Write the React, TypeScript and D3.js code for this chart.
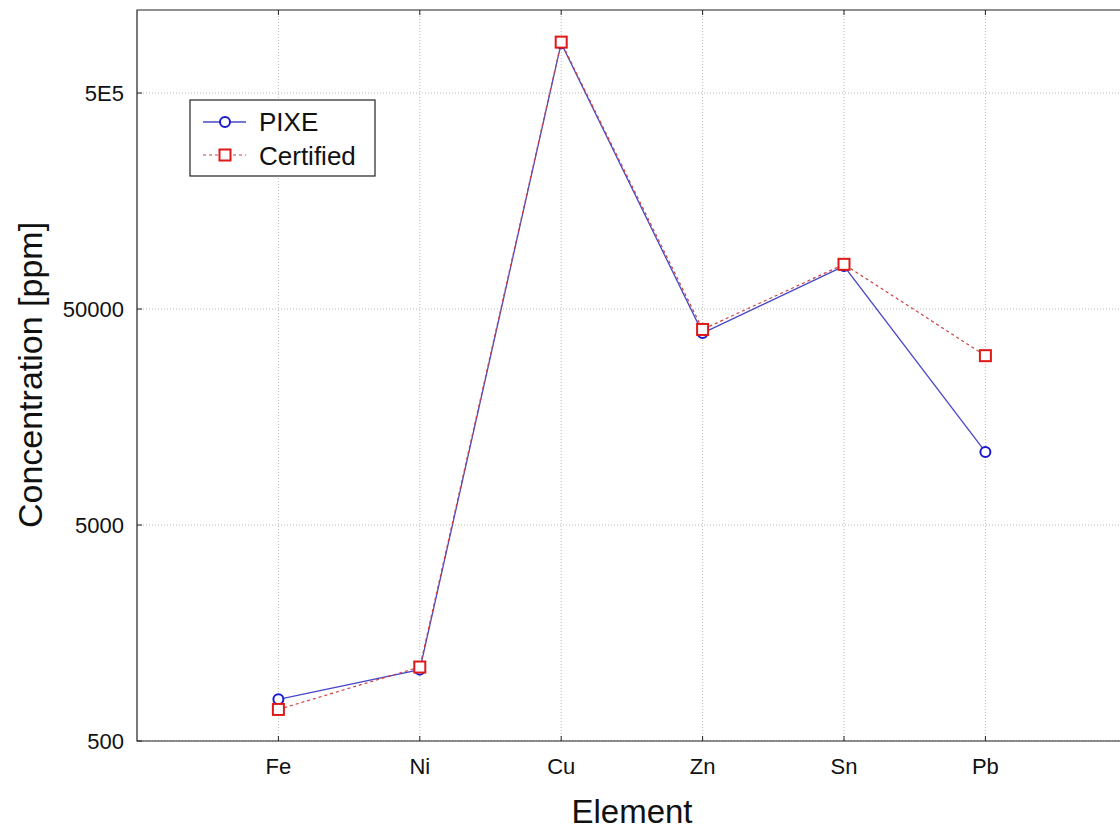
import React, {useEffect, useRef} from 'react';
import * as d3 from 'd3';

const elements = ['Fe', 'Ni', 'Cu', 'Zn', 'Sn', 'Pb'];
const pixe = [780, 1070, 850000, 38700, 79000, 10900];
const certified = [700, 1100, 860000, 40200, 80500, 30400];
const yTicks = [500, 5000, 50000, 500000];
const yTickLabels = ['500', '5000', '50000', '5E5'];

const App = () => {
    const ref = useRef<SVGSVGElement>(null);

    useEffect(() => {
        const width = 1120;
        const height = 835;
        const margin = {top: 10, left: 137, bottom: 94};
        const bottom = height - margin.bottom;

        const svg = d3.select(ref.current);
        svg.selectAll('*').remove();
        svg.attr('width', width).attr('height', height);

        const font = '"Liberation Sans", Arial, sans-serif';

        const x = d3.scaleLinear().domain([0, elements.length + 1]).range([margin.left, margin.left + 7 * 141.4]);
        // one decade = 216px, 500 sits on the bottom axis
        const y = d3.scaleLog().domain([500, 500 * Math.pow(10, (bottom - margin.top) / 216)]).range([bottom, margin.top]);

        const g = svg.append('g');

        // grid
        g.selectAll('.hgrid').data(yTicks).enter().append('line')
            .attr('x1', margin.left).attr('x2', width)
            .attr('y1', d => y(d)).attr('y2', d => y(d))
            .attr('stroke', '#b8b8b8').attr('stroke-dasharray', '1,2');
        g.selectAll('.vgrid').data(elements).enter().append('line')
            .attr('x1', (d, i) => x(i + 1)).attr('x2', (d, i) => x(i + 1))
            .attr('y1', margin.top).attr('y2', bottom)
            .attr('stroke', '#b8b8b8').attr('stroke-dasharray', '1,2');

        // frame
        g.append('path')
            .attr('d', `M${width},${margin.top}H${margin.left}V${bottom}H${width}`)
            .attr('fill', 'none').attr('stroke', '#222').attr('stroke-width', 1.2);

        // inner ticks
        g.selectAll('.ytick').data(yTicks).enter().append('line')
            .attr('x1', margin.left).attr('x2', margin.left + 5)
            .attr('y1', d => y(d)).attr('y2', d => y(d)).attr('stroke', '#222');
        elements.forEach((e, i) => {
            g.append('line').attr('x1', x(i + 1)).attr('x2', x(i + 1))
                .attr('y1', bottom).attr('y2', bottom - 5).attr('stroke', '#222');
            g.append('line').attr('x1', x(i + 1)).attr('x2', x(i + 1))
                .attr('y1', margin.top).attr('y2', margin.top + 5).attr('stroke', '#222');
        });

        // tick labels
        g.selectAll('.ylab').data(yTicks).enter().append('text')
            .attr('x', 124).attr('y', d => y(d) + 8)
            .attr('text-anchor', 'end')
            .style('font-family', font).style('font-size', '22px').attr('fill', '#111')
            .text((d, i) => yTickLabels[i]);
        g.selectAll('.xlab').data(elements).enter().append('text')
            .attr('x', (d, i) => x(i + 1)).attr('y', 774)
            .attr('text-anchor', 'middle')
            .style('font-family', font).style('font-size', '22px').attr('fill', '#111')
            .text(d => d);

        // axis titles
        g.append('text')
            .attr('transform', `translate(42, 375) rotate(-90)`)
            .attr('text-anchor', 'middle')
            .style('font-family', font).style('font-size', '34px').attr('fill', '#111')
            .text('Concentration [ppm]');
        g.append('text')
            .attr('x', 632).attr('y', 823)
            .attr('text-anchor', 'middle')
            .style('font-family', font).style('font-size', '33px').attr('fill', '#111')
            .text('Element');

        const line = d3.line<number>().x((d, i) => x(i + 1)).y(d => y(d));

        g.append('path').datum(pixe).attr('d', line)
            .attr('fill', 'none').attr('stroke', '#4848c8').attr('stroke-width', 1.3);
        g.append('path').datum(certified).attr('d', line)
            .attr('fill', 'none').attr('stroke', '#d04040').attr('stroke-width', 1.2)
            .attr('stroke-dasharray', '3,3');

        g.selectAll('.pixe').data(pixe).enter().append('circle')
            .attr('cx', (d, i) => x(i + 1)).attr('cy', d => y(d)).attr('r', 5)
            .attr('fill', 'white').attr('stroke', '#1a1acc').attr('stroke-width', 2);
        g.selectAll('.cert').data(certified).enter().append('rect')
            .attr('x', (d, i) => x(i + 1) - 5.5).attr('y', d => y(d) - 5.5)
            .attr('width', 11).attr('height', 11)
            .attr('fill', 'white').attr('stroke', '#e01818').attr('stroke-width', 2);

        // legend
        const lg = g.append('g');
        lg.append('rect').attr('x', 190).attr('y', 100).attr('width', 185).attr('height', 76)
            .attr('fill', 'white').attr('stroke', '#222').attr('stroke-width', 1.2);
        lg.append('line').attr('x1', 203).attr('x2', 246).attr('y1', 122).attr('y2', 122)
            .attr('stroke', '#4848c8').attr('stroke-width', 1.3);
        lg.append('circle').attr('cx', 225).attr('cy', 122).attr('r', 5)
            .attr('fill', 'white').attr('stroke', '#1a1acc').attr('stroke-width', 2);
        lg.append('line').attr('x1', 203).attr('x2', 246).attr('y1', 155).attr('y2', 155)
            .attr('stroke', '#d04040').attr('stroke-width', 1.2).attr('stroke-dasharray', '3,3');
        lg.append('rect').attr('x', 219.5).attr('y', 149.5).attr('width', 11).attr('height', 11)
            .attr('fill', 'white').attr('stroke', '#e01818').attr('stroke-width', 2);
        lg.append('text').attr('x', 259).attr('y', 131)
            .style('font-family', font).style('font-size', '26px').attr('fill', '#111').text('PIXE');
        lg.append('text').attr('x', 259).attr('y', 165)
            .style('font-family', font).style('font-size', '26px').attr('fill', '#111').text('Certified');
    }, []);

    return (
        <svg ref={ref} style={{position: 'absolute', left: 0, top: 0, display: 'block', background: 'white'}}/>
    );
};

export default App;
